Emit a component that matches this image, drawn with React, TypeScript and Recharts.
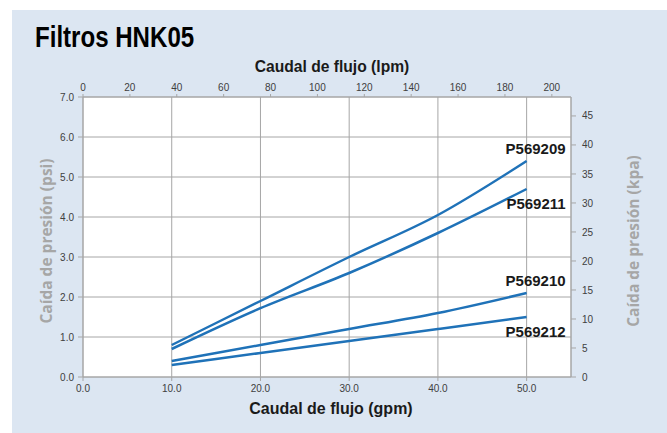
import React from "react";
import {
  LineChart,
  Line,
  XAxis,
  YAxis,
  CartesianGrid,
  LabelList,
} from "recharts";

// flow in gpm, pressure drop in psi
const GPM = [10, 20, 30, 40, 50];
const P569209 = [0.8, 1.9, 3.0, 4.05, 5.4];
const P569211 = [0.7, 1.72, 2.6, 3.6, 4.7];
const P569210 = [0.4, 0.8, 1.2, 1.6, 2.1];
const P569212 = [0.3, 0.6, 0.9, 1.2, 1.5];

const PSI_TICKS = [0, 1, 2, 3, 4, 5, 6, 7];
const GPM_TICKS = [0, 10, 20, 30, 40, 50];
const LPM_TICKS = [0, 20, 40, 60, 80, 100, 120, 140, 160, 180, 200];
const KPA_TICKS = [0, 5, 10, 15, 20, 25, 30, 35, 40, 45];

const GPM_MAX = 55;
const PSI_MAX = 7;
const LPM_PER_GPM = 3.785;
const KPA_PER_PSI = 6.895;

const SERIES = [
  { key: "P569209", values: P569209, above: true },
  { key: "P569211", values: P569211, above: false },
  { key: "P569210", values: P569210, above: true },
  { key: "P569212", values: P569212, above: false },
];

const data = GPM.map((g, i) => {
  const row: { [k: string]: number } = { gpm: g, lpm: g * LPM_PER_GPM };
  SERIES.forEach((s) => {
    row[s.key] = s.values[i];
  });
  return row;
});

const LINE_COLOR = "#1f72b8";
const GRID = "#a6a6a6";
const SANS = "'Liberation Sans', Arial, sans-serif";
const tickStyle = { fontFamily: SANS, fontSize: 10, fill: "#404040" };

const endLabel = (name: string, above: boolean) => (props: any) => {
  const { x, y, index } = props;
  if (index !== GPM.length - 1) return null;
  return (
    <text
      x={x + 39}
      y={above ? y - 7 : y + 20}
      textAnchor="end"
      fontFamily={SANS}
      fontWeight="bold"
      fontSize={15}
      fill="#1a1a1a"
    >
      {name}
    </text>
  );
};

const App = () => {
  return (
    <div
      style={{
        position: "absolute",
        left: 0,
        top: 0,
        width: 667,
        height: 433,
        background: "#fff",
        overflow: "hidden",
      }}
    >
      <div
        style={{
          position: "absolute",
          left: 12,
          top: 10,
          width: 655,
          height: 423,
          background: "#dce6f2",
        }}
      />
      <div
        style={{
          position: "absolute",
          left: 35,
          top: 23,
          fontFamily: SANS,
          fontWeight: "bold",
          fontSize: 29,
          lineHeight: "29px",
          color: "#000",
          whiteSpace: "nowrap",
          transform: "scaleX(0.83)",
          transformOrigin: "left top",
        }}
      >
        Filtros HNK05
      </div>
      <div
        style={{
          position: "absolute",
          left: 0,
          top: 0,
        }}
      >
        <LineChart
          width={667}
          height={433}
          data={data}
          margin={{ top: 77, right: 56, bottom: 36, left: 43 }}
        >
          <CartesianGrid
            xAxisId="gpm"
            yAxisId="psi"
            stroke={GRID}
            strokeWidth={1}
            fill="#fff"
            fillOpacity={1}
          />
          <XAxis
            xAxisId="gpm"
            dataKey="gpm"
            type="number"
            domain={[0, GPM_MAX]}
            ticks={GPM_TICKS}
            tickFormatter={(v: number) => v.toFixed(1)}
            height={20}
            stroke={GRID}
            tick={tickStyle}
            tickSize={4}
            tickMargin={4}
            interval={0}
          />
          <XAxis
            xAxisId="lpm"
            dataKey="lpm"
            orientation="top"
            type="number"
            domain={[0, GPM_MAX * LPM_PER_GPM]}
            ticks={LPM_TICKS}
            height={20}
            stroke={GRID}
            tick={tickStyle}
            tickSize={3}
            tickMargin={3}
            interval={0}
            allowDataOverflow
          />
          <YAxis
            yAxisId="psi"
            type="number"
            domain={[0, PSI_MAX]}
            ticks={PSI_TICKS}
            tickFormatter={(v: number) => v.toFixed(1)}
            width={40}
            stroke={GRID}
            tick={tickStyle}
            tickSize={5}
            tickMargin={4}
            interval={0}
          />
          <YAxis
            yAxisId="kpa"
            orientation="right"
            type="number"
            domain={[0, PSI_MAX * KPA_PER_PSI]}
            ticks={KPA_TICKS}
            width={40}
            stroke={GRID}
            tick={tickStyle}
            tickSize={5}
            tickMargin={6}
            interval={0}
            allowDataOverflow
          />
          {SERIES.map((s) => (
            <Line
              key={s.key}
              xAxisId="gpm"
              yAxisId="psi"
              type="monotone"
              dataKey={s.key}
              stroke={LINE_COLOR}
              strokeWidth={2.5}
              dot={false}
              activeDot={false}
              isAnimationActive={false}
            >
              <LabelList dataKey={s.key} content={endLabel(s.key, s.above)} />
            </Line>
          ))}
        </LineChart>
      </div>
      <div
        style={{
          position: "absolute",
          left: 182,
          width: 300,
          top: 58,
          textAlign: "center",
          fontFamily: SANS,
          fontWeight: "bold",
          fontSize: 17,
          lineHeight: "17px",
          color: "#1a1a1a",
          transform: "scaleX(0.92)",
          transformOrigin: "center top",
        }}
      >
        Caudal de flujo (lpm)
      </div>
      <div
        style={{
          position: "absolute",
          left: 181,
          width: 300,
          top: 400,
          textAlign: "center",
          fontFamily: SANS,
          fontWeight: "bold",
          fontSize: 17,
          lineHeight: "17px",
          color: "#1a1a1a",
          transform: "scaleX(0.94)",
          transformOrigin: "center top",
        }}
      >
        Caudal de flujo (gpm)
      </div>
      <div
        style={{
          position: "absolute",
          left: 46,
          top: 241,
          transform: "translate(-50%, -50%) rotate(-90deg)",
          whiteSpace: "nowrap",
          fontFamily: "'Open Sans', sans-serif",
          fontWeight: "bold",
          fontSize: 15.5,
          color: "#a6a6a6",
        }}
      >
        Caída de presión (psi)
      </div>
      <div
        style={{
          position: "absolute",
          left: 633,
          top: 241,
          transform: "translate(-50%, -50%) rotate(-90deg)",
          whiteSpace: "nowrap",
          fontFamily: "'Open Sans', sans-serif",
          fontWeight: "bold",
          fontSize: 15.5,
          color: "#a6a6a6",
        }}
      >
        Caída de presión (kpa)
      </div>
    </div>
  );
};

export default App;
